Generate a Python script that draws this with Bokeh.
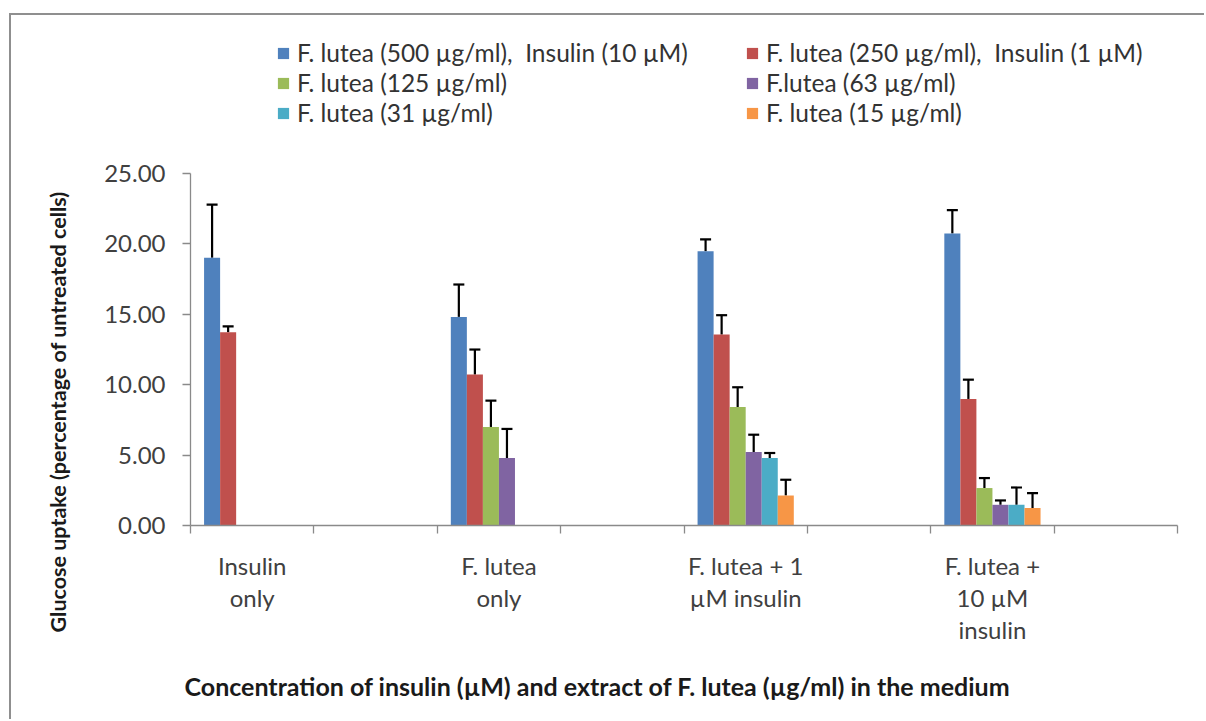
from bokeh.plotting import figure
from bokeh.models import (Range1d, FixedTicker, NumeralTickFormatter, ColumnDataSource,
                          Whisker, TeeHead, Legend, LegendItem, Title)
from bokeh.embed import file_html
from bokeh.resources import INLINE

# ---------------- data ----------------
categories = ["Insulin\nonly", "", "F. lutea\nonly", "", "F. lutea + 1\nµM insulin", "",
              "F. lutea +\n10 µM\ninsulin", ""]
group_slots = [0, 2, 4, 6]   # category slots holding data

series_names = ["F. lutea (500 µg/ml),  Insulin (10 µM)",
                "F. lutea (250 µg/ml),  Insulin (1 µM)",
                "F. lutea (125 µg/ml)",
                "F.lutea (63 µg/ml)",
                "F. lutea (31 µg/ml)",
                "F. lutea (15 µg/ml)"]
colors = ["#4F81BD", "#C0504D", "#9BBB59", "#8064A2", "#4BACC6", "#F79646"]

v500 = [19.02, 14.82, 19.49, 20.75]
e500 = [3.78, 2.30, 0.83, 1.65]
v250 = [13.73, 10.72, 13.56, 8.99]
e250 = [0.42, 1.78, 1.38, 1.37]
v125 = [None, 7.00, 8.42, 2.66]
e125 = [None, 1.87, 1.40, 0.71]
v63 = [None, 4.79, 5.22, 1.47]
e63 = [None, 2.07, 1.23, 0.31]
v31 = [None, None, 4.79, 1.47]
e31 = [None, None, 0.36, 1.23]
v15 = [None, None, 2.13, 1.24]
e15 = [None, None, 1.12, 1.06]

values = [v500, v250, v125, v63, v31, v15]
errors = [e500, e250, e125, e63, e31, e15]

y_ticks = [0, 5, 10, 15, 20, 25]

x_title = "Concentration of insulin (µM) and extract of F. lutea (µg/ml) in the medium"
y_title = "Glucose uptake (percentage of untreated cells)"

# ---------------- figure ----------------
FONT = "Lato"
TXT = "#404040"
# frame extends above the 25.00 tick to hold the legend; the axis itself stops at 25
y_top = 35.52
p = figure(width=1195, height=706, x_range=Range1d(0, len(categories)), y_range=Range1d(0, y_top),
           output_backend="svg", toolbar_location=None,
           min_border_left=179, min_border_right=29, min_border_top=10, min_border_bottom=195)
p.styles = {"border-top": "2px solid #8f8f8f", "border-left": "2px solid #8f8f8f",
            "margin-left": "9px", "margin-top": "13px"}
p.xgrid.visible = False
p.ygrid.visible = False
p.outline_line_color = None
p.background_fill_color = "white"
p.border_fill_color = "white"

bar_w = 0.13
renderers = []
for i, (vals, errs) in enumerate(zip(values, errors)):
    xs, tops, ups = [], [], []
    for g, slot in enumerate(group_slots):
        if vals[g] is None:
            continue
        xs.append(slot + 0.5 + (i - 2.5) * bar_w)
        tops.append(vals[g])
        ups.append(vals[g] + errs[g])
    src = ColumnDataSource(dict(x=xs, top=tops, upper=ups))
    r = p.vbar(x="x", top="top", width=bar_w, source=src, fill_color=colors[i], line_color=None)
    renderers.append(r)
    w = Whisker(base="x", lower="top", upper="upper", source=src, dimension="height",
                line_color="black", line_width=2.2, lower_head=None,
                upper_head=TeeHead(size=11, line_color="black", line_width=2.2))
    p.add_layout(w)

# axes
xa = p.xaxis[0]
centers = [k + 0.5 for k in range(len(categories))]
xa.ticker = FixedTicker(ticks=centers, minor_ticks=list(range(len(categories) + 1)))
xa.major_label_overrides = {c: lab for c, lab in zip(centers, categories)}
xa.major_tick_line_color = None
xa.major_tick_out = 8
xa.major_tick_in = 0
xa.minor_tick_out = 8
xa.minor_tick_in = 0
xa.minor_tick_line_color = "#8a8a8a"
xa.axis_line_color = "#8a8a8a"
xa.axis_line_width = 1.3
xa.minor_tick_line_width = 1.3
xa.major_label_text_font = FONT
xa.major_label_text_font_size = "24px"
xa.major_label_text_color = TXT
xa.major_label_text_line_height = 1.12
xa.major_label_standoff = 17

ya = p.yaxis[0]
ya.ticker = FixedTicker(ticks=y_ticks)
ya.bounds = (y_ticks[0], y_ticks[-1])
ya.formatter = NumeralTickFormatter(format="0.00")
ya.minor_tick_line_color = None
ya.major_tick_out = 8
ya.major_tick_in = 0
ya.major_tick_line_color = "#8a8a8a"
ya.axis_line_color = "#8a8a8a"
ya.axis_line_width = 1.3
ya.major_tick_line_width = 1.3
ya.major_label_text_font = FONT
ya.major_label_text_font_size = "24px"
ya.major_label_text_color = TXT
ya.major_label_standoff = 17

# axis titles
p.add_layout(Title(text=y_title, align="left", offset=-107, standoff=62,
                   text_font=FONT, text_font_style="bold", text_font_size="21.5px",
                   text_color="#1a1a1a"), "left")
p.add_layout(Title(text=x_title, align="left", offset=-6, standoff=42,
                   text_font=FONT, text_font_style="bold", text_font_size="25px",
                   text_color="#1a1a1a"), "below")

# legends (two columns, three rows each)
def make_legend(idxs, loc):
    lg = Legend(items=[LegendItem(label=series_names[k], renderers=[renderers[k]]) for k in idxs],
                location=loc, orientation="vertical", padding=0, margin=0, spacing=1,
                glyph_width=14, glyph_height=14, label_standoff=7,
                label_text_font=FONT, label_text_font_size="24.5px", label_text_color="#333333",
                border_line_color=None, background_fill_alpha=0)
    p.add_layout(lg, "center")

make_legend([0, 2, 4], (86, 398))
make_legend([1, 3, 5], (555, 398))

open("out.html", "w").write(file_html(p, INLINE))
